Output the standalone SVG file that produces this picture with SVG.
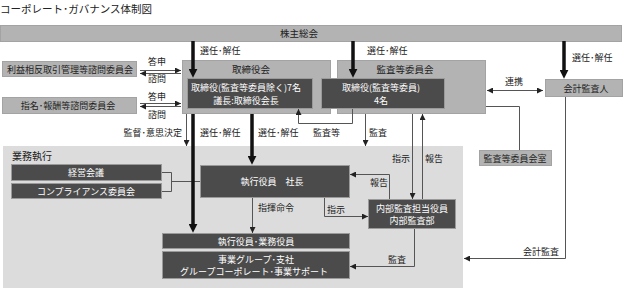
<svg xmlns="http://www.w3.org/2000/svg" width="624" height="291" viewBox="0 0 624 291">
<style>
text{font-family:"Noto Sans CJK JP","Noto Sans",sans-serif;font-size:9px;fill:#222}
.c{text-anchor:middle}
.e{text-anchor:end}
.w{fill:#fff}
.g{fill:#b3b3b3;stroke:#a3a3a3;stroke-width:1}
.d{fill:#4b4b4b;stroke:#9a9a9a;stroke-width:1}
.t{fill:none;stroke:#555;stroke-width:1}
.k{fill:none;stroke:#111;stroke-width:3.5}
</style>
<defs>
<marker id="a" viewBox="0 0 10 10" refX="10" refY="5" markerWidth="6" markerHeight="6" markerUnits="userSpaceOnUse" orient="auto-start-reverse"><path d="M0,0 L10,5 L0,10 z" fill="#222"/></marker>
<marker id="b" viewBox="0 0 10 10" refX="3" refY="5" markerWidth="9" markerHeight="9" markerUnits="userSpaceOnUse" orient="auto"><path d="M0,0 L10,5 L0,10 z" fill="#111"/></marker>
</defs>
<text x="0" y="13" style="font-size:10.5px">コーポレート･ガバナンス体制図</text>
<g id="area"><rect x="3" y="146" width="460" height="142" fill="#dcdcdc"/><text x="12" y="160" style="font-size:10px">業務執行</text></g>
<g id="shareholders"><rect class="g" x="0.5" y="25.5" width="621" height="16"/><text class="c" x="299" y="37" style="font-size:9.5px">株主総会</text></g>
<g id="board"><rect class="g" x="182.5" y="60.5" width="148" height="53"/><text class="c" x="251" y="73" style="font-size:9.5px">取締役会</text>
<rect class="d" x="187.5" y="78.5" width="125" height="30"/><text class="c w" x="246" y="91">取締役(監査等委員除く)7名</text><text class="c w" x="246" y="104">議長:取締役会長</text></g>
<g id="auditcommittee"><rect class="g" x="337.5" y="60.5" width="148" height="53"/><text class="c" x="405" y="73" style="font-size:9.5px">監査等委員会</text>
<rect class="d" x="321.5" y="78.5" width="123" height="30"/><text class="c w" x="381" y="91">取締役(監査等委員)</text><text class="c w" x="381" y="104">4名</text></g>
<g id="auditor"><rect class="g" x="545.5" y="79.5" width="77" height="17"/><text class="c" x="586" y="92">会計監査人</text></g>
<g id="acroom"><rect class="g" x="479.5" y="150.5" width="72" height="15"/><text class="c" x="515" y="162">監査等委員会室</text></g>
<g id="conflict"><rect class="g" x="2.5" y="61.5" width="134" height="15"/><text class="c" x="70" y="73">利益相反取引管理等諮問委員会</text></g>
<g id="nomination"><rect class="g" x="2.5" y="97.5" width="134" height="16"/><text class="c" x="68" y="109">指名･報酬等諮問委員会</text></g>
<g id="mgmt"><rect class="d" x="11.5" y="164.5" width="150" height="16"/><text class="c w" x="86" y="176">経営会議</text></g>
<g id="compliance"><rect class="d" x="11.5" y="183.5" width="150" height="15"/><text class="c w" x="86" y="195">コンプライアンス委員会</text></g>
<g id="president"><rect class="d" x="200.5" y="165.5" width="149" height="32"/><text class="c w" x="272" y="185">執行役員　社長</text></g>
<g id="officers"><rect class="d" x="162.5" y="233.5" width="187" height="15"/><text class="c w" x="256" y="245">執行役員･業務役員</text></g>
<g id="groups"><rect class="d" x="162.5" y="251.5" width="187" height="27"/><text class="c w" x="256" y="263">事業グループ･支社</text><text class="c w" x="254" y="275">グループコーポレート･事業サポート</text></g>
<g id="internalaudit"><rect class="d" x="368.5" y="199.5" width="87" height="29"/><text class="c w" x="412" y="212">内部監査担当役員</text><text class="c w" x="412" y="224">内部監査部</text></g>
<g id="connectors">
<path class="t" d="M162,172.5 H171.5 V191.5 H162 M171.5,181.5 H200"/>
<path class="t" d="M140,70.5 H181" marker-end="url(#a)"/>
<path class="t" d="M181,73.5 H140" marker-end="url(#a)"/>
<path class="t" d="M140,103.5 H181" marker-end="url(#a)"/>
<path class="t" d="M181,106.5 H140" marker-end="url(#a)"/>
<text class="c" x="157" y="65">答申</text><text class="c" x="157" y="82">諮問</text>
<text class="c" x="157" y="100">答申</text><text class="c" x="157" y="118">諮問</text>
<path class="k" d="M193,41 V71.5" marker-end="url(#b)"/>
<path class="k" d="M353,41 V71.5" marker-end="url(#b)"/>
<path class="k" d="M564,41 V72.5" marker-end="url(#b)"/>
<path class="k" d="M193,114 V226.5" marker-end="url(#b)"/>
<path class="k" d="M252,114 V158.5" marker-end="url(#b)"/>
<text x="200" y="54">選任･解任</text><text x="367" y="54">選任･解任</text><text x="572" y="61">選任･解任</text>
<path class="t" d="M487,90.5 H543" marker-start="url(#a)" marker-end="url(#a)"/>
<text class="c" x="514" y="85">連携</text>
<path class="t" d="M186.5,114 V146" marker-end="url(#a)"/>
<text class="e" x="182" y="136">監督･意思決定</text>
<text x="200" y="136">選任･解任</text><text x="258" y="136">選任･解任</text>
<path class="t" d="M352.5,109 V123.5 H298.5 V109" marker-end="url(#a)"/>
<text x="313" y="136">監査等</text>
<path class="t" d="M365.5,114 V146" marker-end="url(#a)"/>
<text x="369" y="136">監査</text>
<path class="t" d="M486,106.5 H519.5 V150"/>
<path class="t" d="M565.5,97 V258.5 H464" marker-end="url(#a)"/>
<text x="523" y="255">会計監査</text>
<path class="t" d="M412.5,114 V199" marker-end="url(#a)"/>
<path class="t" d="M422.5,199 V114" marker-end="url(#a)"/>
<text x="392" y="162">指示</text><text x="425" y="162">報告</text>
<path class="t" d="M389.5,199 V174.5 H350" marker-end="url(#a)"/>
<text x="370" y="186">報告</text>
<path class="t" d="M324.5,198 V216.5 H368" marker-end="url(#a)"/>
<text x="327" y="213">指示</text>
<path class="t" d="M414.5,229 V266.5 H350" marker-end="url(#a)"/>
<text x="388" y="263">監査</text>
<path class="t" d="M252.5,198 V233" marker-end="url(#a)"/>
<text x="258" y="211">指揮命令</text>
</g>
</svg>
